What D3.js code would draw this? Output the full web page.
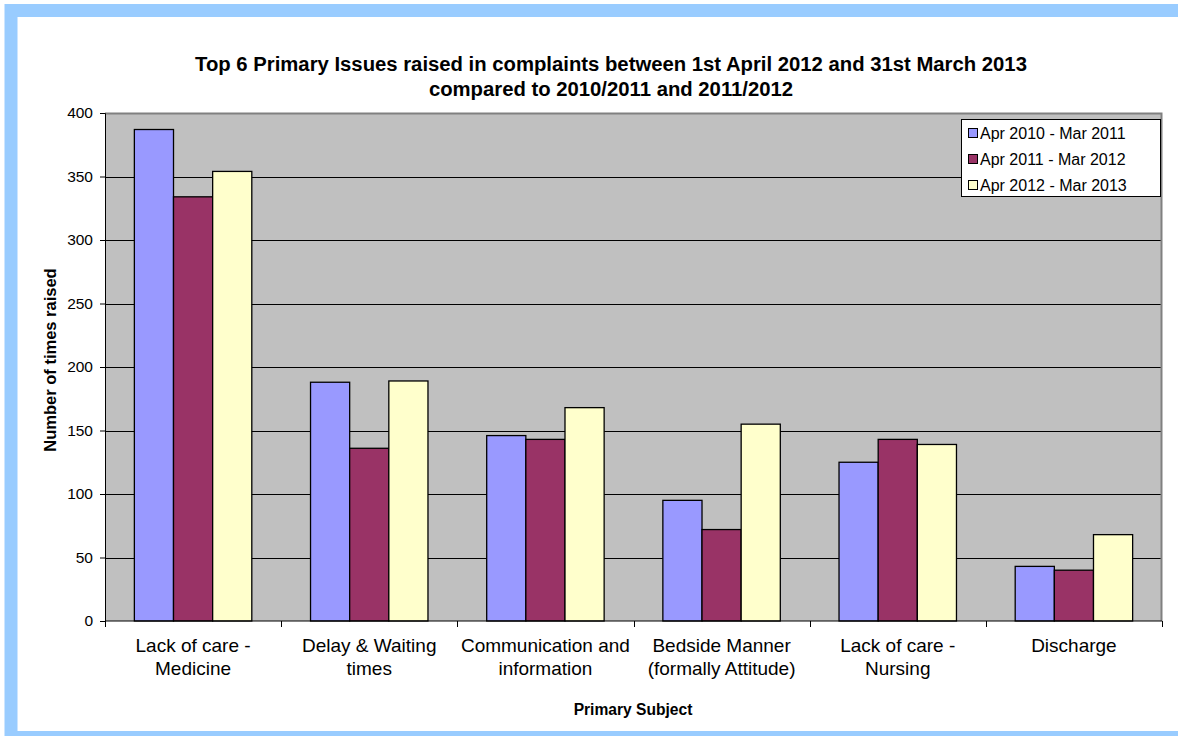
<!DOCTYPE html>
<html>
<head>
<meta charset="utf-8">
<script src="https://cdn.jsdelivr.net/npm/d3@7"></script>
<style>
  body { margin: 0; background: #fff; }
  svg { display: block; font-family: "Liberation Sans", Arial, sans-serif; }
</style>
</head>
<body>
<svg id="chart"></svg>
<script>
// Chart data
const categories = [
  ['Lack of care -', 'Medicine'],
  ['Delay & Waiting', 'times'],
  ['Communication and', 'information'],
  ['Bedside Manner', '(formally Attitude)'],
  ['Lack of care -', 'Nursing'],
  ['Discharge'],
];
const seriesNames = ['Apr 2010 - Mar 2011', 'Apr 2011 - Mar 2012', 'Apr 2012 - Mar 2013'];
const values2010 = [387, 188, 146, 95, 125, 43];
const values2011 = [334, 136, 143, 72, 143, 40];
const values2012 = [354, 189, 168, 155, 139, 68];
const yTicks = [0, 50, 100, 150, 200, 250, 300, 350, 400];
const titleLines = ['Top 6 Primary Issues raised in complaints between 1st April 2012 and 31st March 2013',
  'compared to 2010/2011 and 2011/2012'];
const colors = ['#9999FF', '#993366', '#FFFFCC'];

const config = {
  width: 1178,
  height: 736,
  margin: { top: 113, right: 16, bottom: 115, left: 105 },
};

const svg = d3.select('#chart')
  .attr('width', config.width)
  .attr('height', config.height);

// light blue frame
svg.append('rect')
  .attr('x', 11).attr('y', 10.5)
  .attr('width', 1200).attr('height', 727)
  .attr('fill', '#fff')
  .attr('stroke', '#99CCFF')
  .attr('stroke-width', 13);

const width = config.width - config.margin.left - config.margin.right;
const height = config.height - config.margin.top - config.margin.bottom;

const chart = svg.append('g')
  .attr('transform', `translate(${config.margin.left},${config.margin.top})`);

const idx = categories.map((d, i) => i);

// group scale: each category is 1/6 of width; bars occupy 3/4.5 of it (gap width 150%)
const groupScale = d3.scaleBand().domain(idx).range([0, width]).padding(0);
const subScale = d3.scaleBand()
  .domain([0, 1, 2])
  .range([groupScale.bandwidth() * 0.75 / 4.5, groupScale.bandwidth() * 3.75 / 4.5]);

const yScale = d3.scaleLinear().domain([0, 400]).range([height, 0]);

// plot area
chart.append('rect')
  .attr('width', width).attr('height', height)
  .attr('fill', '#C0C0C0');

// gridlines
chart.append('g')
  .selectAll('line')
  .data(yTicks.filter((d) => d > 0 && d < 400))
  .join('line')
  .attr('x1', 0).attr('x2', width)
  .attr('y1', (d) => Math.round(yScale(d)) + 0.5)
  .attr('y2', (d) => Math.round(yScale(d)) + 0.5)
  .attr('stroke', '#000')
  .attr('stroke-width', 1);

// top & right border of plot area
chart.append('path')
  .attr('d', `M0,0.5H${width - 0.5}V${height}`)
  .attr('fill', 'none')
  .attr('stroke', '#808080')
  .attr('stroke-width', 2);

// bars
const series = [values2010, values2011, values2012];
series.forEach((vals, s) => {
  chart.append('g')
    .selectAll('rect')
    .data(vals)
    .join('rect')
    .attr('x', (d, i) => groupScale(i) + subScale(s))
    .attr('y', (d) => yScale(d))
    .attr('width', subScale.bandwidth())
    .attr('height', (d) => height - yScale(d))
    .attr('fill', colors[s])
    .attr('stroke', '#000')
    .attr('stroke-width', 1.3);
});

// y axis
const yAxis = d3.axisLeft(yScale)
  .tickValues(yTicks)
  .tickSize(5)
  .tickPadding(7);
chart.append('g')
  .call(yAxis)
  .call((g) => g.selectAll('text').attr('font-size', 15.5).attr('fill', '#000').attr('font-family', 'Liberation Sans, Arial'))
  .call((g) => g.selectAll('line, path').attr('stroke', '#000'));

// x axis (tick marks at group boundaries)
const xAxisG = chart.append('g').attr('transform', `translate(0,${height})`);
xAxisG.append('line')
  .attr('x1', 0).attr('x2', width)
  .attr('stroke', '#000');
xAxisG.selectAll('.tick')
  .data(d3.range(categories.length + 1))
  .join('line')
  .attr('x1', (d) => Math.round(d * groupScale.step()) + 0.5)
  .attr('x2', (d) => Math.round(d * groupScale.step()) + 0.5)
  .attr('y1', 0).attr('y2', 6)
  .attr('stroke', '#000');

// category labels
const labels = xAxisG.selectAll('.cat')
  .data(categories)
  .join('text')
  .attr('class', 'cat')
  .attr('text-anchor', 'middle')
  .attr('font-size', 19)
  .attr('fill', '#000');
labels.each(function (d, i) {
  const t = d3.select(this);
  d.forEach((line, j) => {
    t.append('tspan')
      .attr('x', groupScale(i) + groupScale.bandwidth() / 2)
      .attr('y', 31 + j * 23)
      .text(line);
  });
});

// title
svg.append('text')
  .attr('text-anchor', 'middle')
  .attr('font-size', 20.3)
  .attr('font-weight', 'bold')
  .selectAll('tspan')
  .data(titleLines)
  .join('tspan')
  .attr('x', 611)
  .attr('y', (d, i) => 71 + i * 25)
  .text((d) => d);

// axis titles
svg.append('text')
  .attr('transform', `translate(56,360) rotate(-90)`)
  .attr('text-anchor', 'middle')
  .attr('font-size', 16.5)
  .attr('font-weight', 'bold')
  .text('Number of times raised');

svg.append('text')
  .attr('x', 633)
  .attr('y', 715)
  .attr('text-anchor', 'middle')
  .attr('font-size', 15.6)
  .attr('font-weight', 'bold')
  .text('Primary Subject');

// legend
const legend = svg.append('g').attr('transform', 'translate(961,119)');
legend.append('rect')
  .attr('x', 0.5).attr('y', 0.5)
  .attr('width', 199).attr('height', 77)
  .attr('fill', '#fff')
  .attr('stroke', '#000');
const items = legend.selectAll('.item')
  .data(seriesNames)
  .join('g')
  .attr('class', 'item')
  .attr('transform', (d, i) => `translate(0,${14 + i * 26})`);
items.append('rect')
  .attr('x', 7.5).attr('y', -4.5)
  .attr('width', 9).attr('height', 9)
  .attr('fill', (d, i) => colors[i])
  .attr('stroke', '#000');
items.append('text')
  .attr('x', 19)
  .attr('y', 5.5)
  .attr('font-size', 16)
  .text((d) => d);
</script>
</body>
</html>
